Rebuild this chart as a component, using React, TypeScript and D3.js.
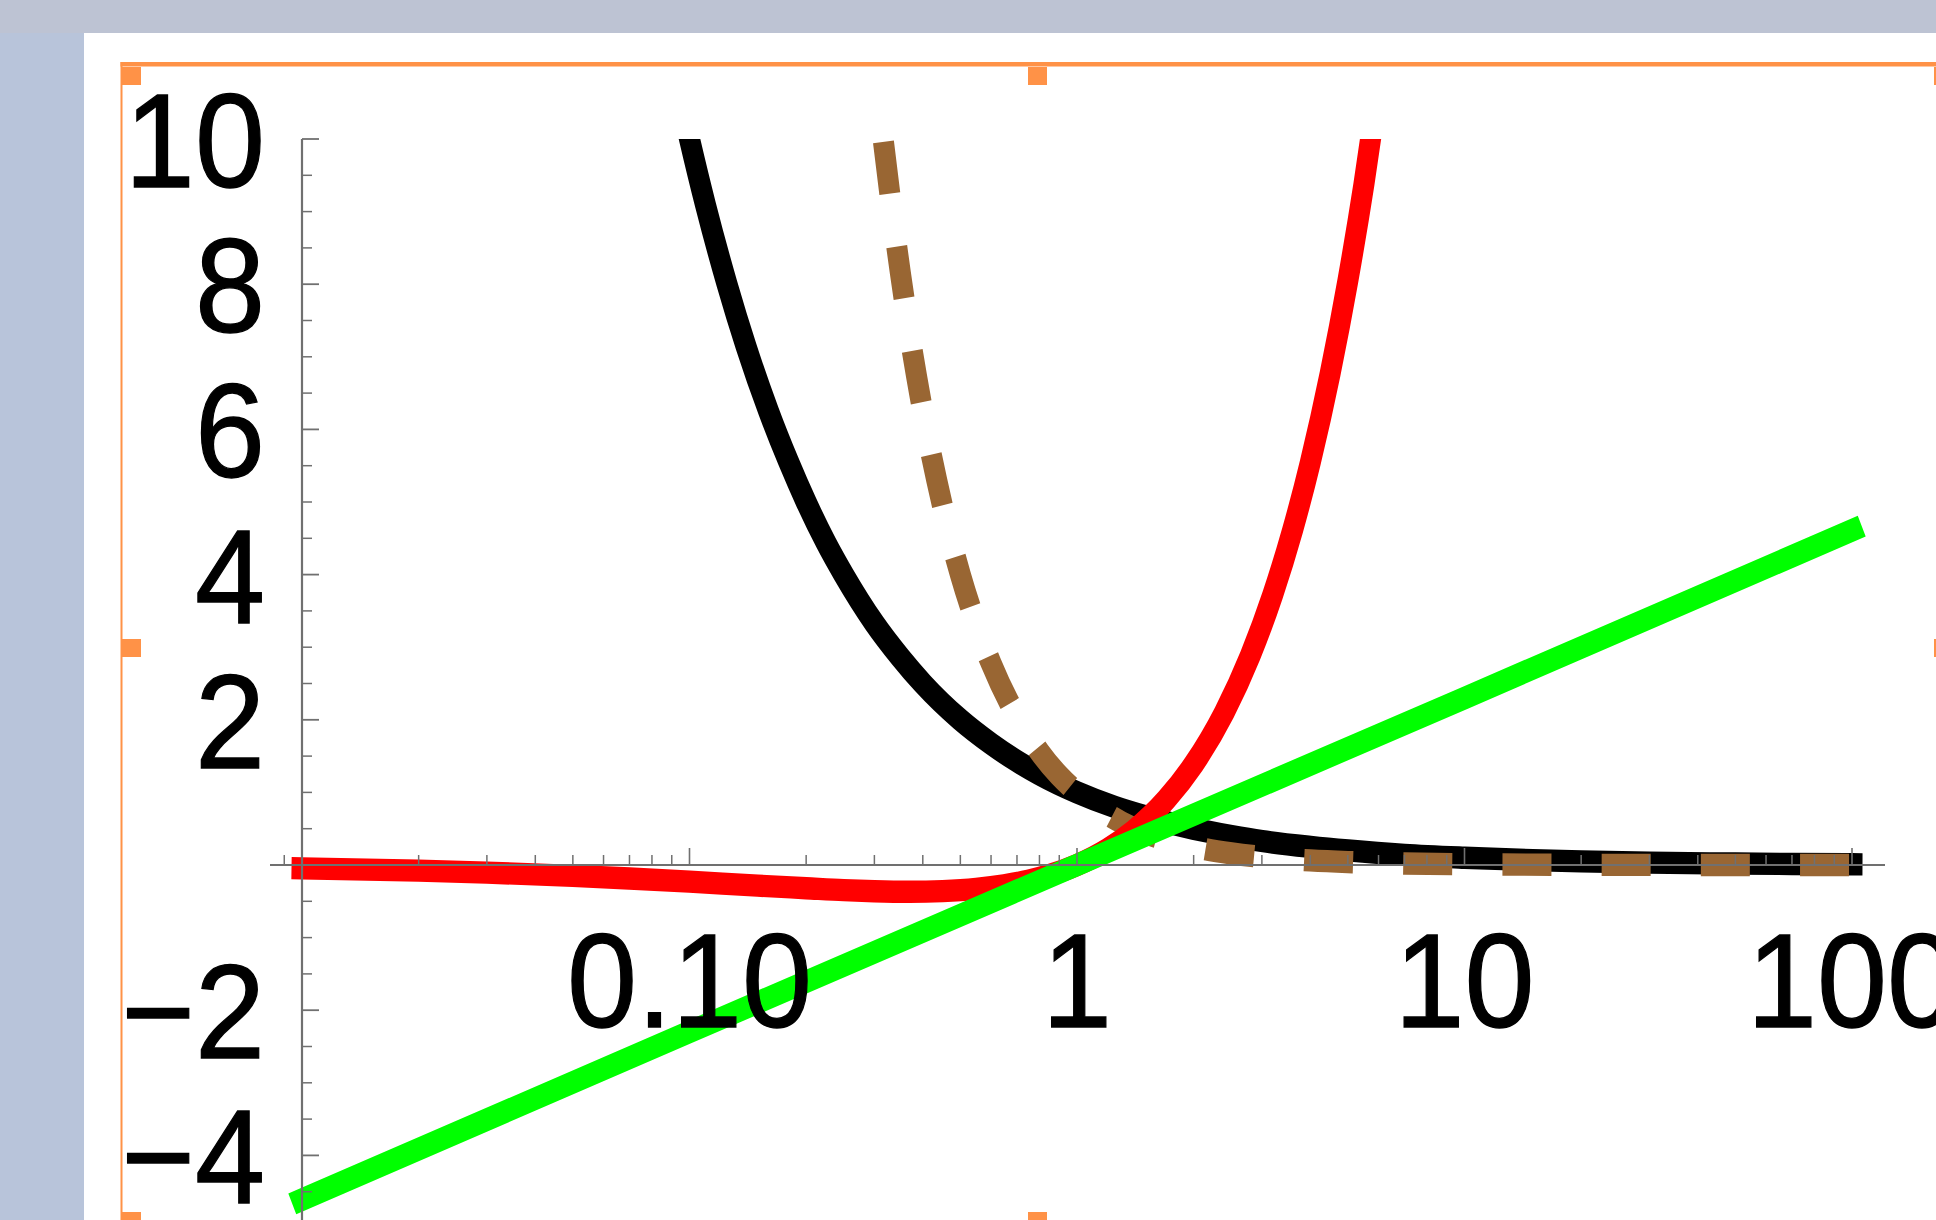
import React, { useLayoutEffect, useRef, useState } from 'react';
import * as d3 from 'd3';

const W = 1936;
const H = 1220;

// Tick labels
const xTickValues = [0.1, 1, 10, 100];
const xTickLabels = ['0.10', '1', '10', '100'];
const yTickValues = [-4, -2, 2, 4, 6, 8, 10];
const yTickLabels = ['\u22124', '\u22122', '2', '4', '6', '8', '10'];

// Black solid series
const blackX = [0.09, 0.1, 0.11, 0.125, 0.14, 0.16, 0.18, 0.2, 0.225, 0.25, 0.3, 0.35, 0.4, 0.5, 0.6, 0.7, 0.8, 1, 1.25, 1.5, 2, 2.5, 3, 4, 5, 7, 10, 15, 20, 30, 50, 70, 100];
const blackY = [11.1, 10, 9.09, 8, 7.14, 6.25, 5.56, 5, 4.44, 4, 3.33, 2.86, 2.5, 2, 1.67, 1.43, 1.25, 1, 0.8, 0.67, 0.5, 0.4, 0.33, 0.25, 0.2, 0.14, 0.1, 0.067, 0.05, 0.033, 0.02, 0.014, 0.01];

// Brown dashed series
const brownX = [0.3, 0.316, 0.33, 0.35, 0.375, 0.4, 0.45, 0.5, 0.55, 0.6, 0.7, 0.8, 0.9, 1, 1.15, 1.3, 1.5, 1.75, 2, 2.5, 3, 4, 5, 7, 10, 20, 50, 100];
const brownY = [11.1, 10, 9.18, 8.16, 7.11, 6.25, 4.94, 4, 3.31, 2.78, 2.04, 1.56, 1.23, 1, 0.76, 0.59, 0.44, 0.33, 0.25, 0.16, 0.11, 0.063, 0.04, 0.02, 0.01, 0.0025, 0.0004, 0.0001];

// Red series
const redX = [0.01, 0.02, 0.03, 0.05, 0.07, 0.1, 0.15, 0.2, 0.25, 0.3, 0.37, 0.45, 0.55, 0.65, 0.75, 0.85, 1, 1.2, 1.4, 1.7, 2, 2.4, 2.8, 3.2, 3.6, 4, 4.5, 5, 5.5, 6];
const redY = [-0.046, -0.078, -0.105, -0.15, -0.186, -0.23, -0.285, -0.32, -0.347, -0.361, -0.368, -0.359, -0.329, -0.28, -0.216, -0.138, 0, 0.219, 0.471, 0.902, 1.386, 2.101, 2.883, 3.722, 4.611, 5.545, 6.768, 8.047, 9.376, 10.75];

// Green series
const greenX = [0.01, 0.1, 1, 10, 100];
const greenY = [-4.61, -2.3, 0, 2.3, 4.61];

const FONT = '"Liberation Sans", Arial, sans-serif';
const FS = 126;
const SY = 1.065; // vertical stretch seen in the reference screenshot
const LW = 21;
const DASH = 49;
const GAP = 50.2;

export default function App() {
  const x = d3.scaleLog().domain([0.01, 100]).range([302, 1852]);
  const y = d3.scaleLinear().domain([0, 10]).range([865, 139]);
  // curves are drawn in an unstretched space, then stretched vertically by SY
  const yU = d3.scaleLinear().domain([0, 10]).range([865 / SY, 139 / SY]);

  const axisLeft = 270;
  const axisRight = 1885;
  const x0 = x(0.01);
  const y0 = y(0);

  const lineSmooth = (xs: number[], ys: number[]) =>
    d3
      .line<number>()
      .x((_, i) => x(xs[i]))
      .y((_, i) => yU(ys[i]))
      .curve(d3.curveMonotoneX)(xs.map((_, i) => i)) || '';
  const lineStraight = (xs: number[], ys: number[]) =>
    d3
      .line<number>()
      .x((_, i) => x(xs[i]))
      .y((_, i) => yU(ys[i]))(xs.map((_, i) => i)) || '';

  const brownRef = useRef<SVGPathElement>(null);
  const [dashOffset, setDashOffset] = useState(0);
  useLayoutEffect(() => {
    if (brownRef.current) {
      const L = brownRef.current.getTotalLength();
      const period = DASH + GAP;
      // align pattern so the final dash ends ~3px before the end of the curve
      const target = DASH + 3;
      let d = (target - L) % period;
      if (d < 0) d += period;
      setDashOffset(d);
    }
  }, []);

  // minor x ticks
  const minorX: number[] = [];
  [0.001, 0.01, 0.1, 1, 10, 100].forEach((d) => {
    for (let m = 2; m <= 9; m++) {
      const v = d * m;
      const px = x(v);
      if (px >= axisLeft && px <= axisRight) minorX.push(v);
    }
  });

  // minor y ticks every 0.5
  const minorY: number[] = [];
  for (let v = -4.5; v <= 10.001; v += 0.5) {
    if (Math.abs(v - Math.round(v / 2) * 2) > 1e-6) minorY.push(v);
  }

  const orange = '#ff9247';
  const axisColor = '#707070';

  return (
    <div style={{ position: 'fixed', left: 0, top: 0, width: W, height: H, overflow: 'hidden' }}>
      <svg width={W} height={H} style={{ display: 'block' }}>
        <defs>
          <clipPath id="plotClip">
            <rect x={0} y={y(10)} width={W} height={H} />
          </clipPath>
        </defs>
        {/* background */}
        <rect x={0} y={0} width={W} height={H} fill="#bdc3d3" />
        <rect x={0} y={33} width={84} height={H - 33} fill="#b8c4da" />
        <rect x={84} y={33} width={W - 84} height={H - 33} fill="#ffffff" />

        {/* selection frame */}
        <rect x={120.5} y={62} width={W - 120} height={4.5} fill={orange} />
        <rect x={120.5} y={62} width={2} height={H - 62} fill={orange} />
        <rect x={122} y={67} width={19} height={18} fill={orange} />
        <rect x={1028} y={67} width={19} height={18} fill={orange} />
        <rect x={1934} y={67} width={19} height={18} fill={orange} />
        <rect x={122} y={639} width={19} height={18} fill={orange} />
        <rect x={1934} y={639} width={19} height={18} fill={orange} />
        <rect x={122} y={1212} width={19} height={18} fill={orange} />
        <rect x={1028} y={1212} width={19} height={18} fill={orange} />

        {/* curves */}
        <g clipPath="url(#plotClip)">
          <g transform={`scale(1,${SY})`} fill="none">
            <path d={lineSmooth(blackX, blackY)} stroke="#000000" strokeWidth={LW} strokeLinecap="square" />
            <path
              ref={brownRef}
              d={lineSmooth(brownX, brownY)}
              stroke="#996633"
              strokeWidth={LW}
              strokeLinecap="butt"
              strokeDasharray={`${DASH} ${GAP}`}
              strokeDashoffset={dashOffset}
            />
            <path d={lineSmooth(redX, redY)} stroke="#ff0000" strokeWidth={LW} strokeLinecap="square" />
            <path d={lineStraight(greenX, greenY)} stroke="#00ff00" strokeWidth={LW} strokeLinecap="square" />
          </g>
        </g>

        {/* axes */}
        <g stroke={axisColor} fill="none">
          <line x1={axisLeft} x2={axisRight} y1={y0} y2={y0} strokeWidth={2} />
          <line x1={x0} x2={x0} y1={y(10)} y2={H} strokeWidth={2.2} />
          {xTickValues.map((v) => (
            <line key={'xM' + v} x1={x(v)} x2={x(v)} y1={y0} y2={y0 - 17} strokeWidth={1.6} />
          ))}
          {minorX.map((v) => (
            <line key={'xm' + v} x1={x(v)} x2={x(v)} y1={y0} y2={y0 - 10} strokeWidth={1.5} />
          ))}
          {yTickValues.map((v) => (
            <line key={'yM' + v} x1={x0} x2={x0 + 17} y1={y(v)} y2={y(v)} strokeWidth={1.8} />
          ))}
          {minorY.map((v) => (
            <line key={'ym' + v} x1={x0} x2={x0 + 10} y1={y(v)} y2={y(v)} strokeWidth={1.5} />
          ))}
        </g>

        {/* tick labels */}
        <g fontFamily={FONT} fontSize={FS} fill="#000000" stroke="#000000" strokeWidth={1.2}>
          {yTickValues.map((v, i) => (
            <text
              key={'yl' + v}
              textAnchor="end"
              transform={`translate(265,${y(v) + 0.358 * FS * SY}) scale(1,${SY})`}
            >
              {yTickLabels[i]}
            </text>
          ))}
          {xTickValues.map((v, i) => (
            <text key={'xl' + v} textAnchor="middle" transform={`translate(${x(v)},1027) scale(1,${SY})`}>
              {xTickLabels[i]}
            </text>
          ))}
        </g>
      </svg>
    </div>
  );
}
